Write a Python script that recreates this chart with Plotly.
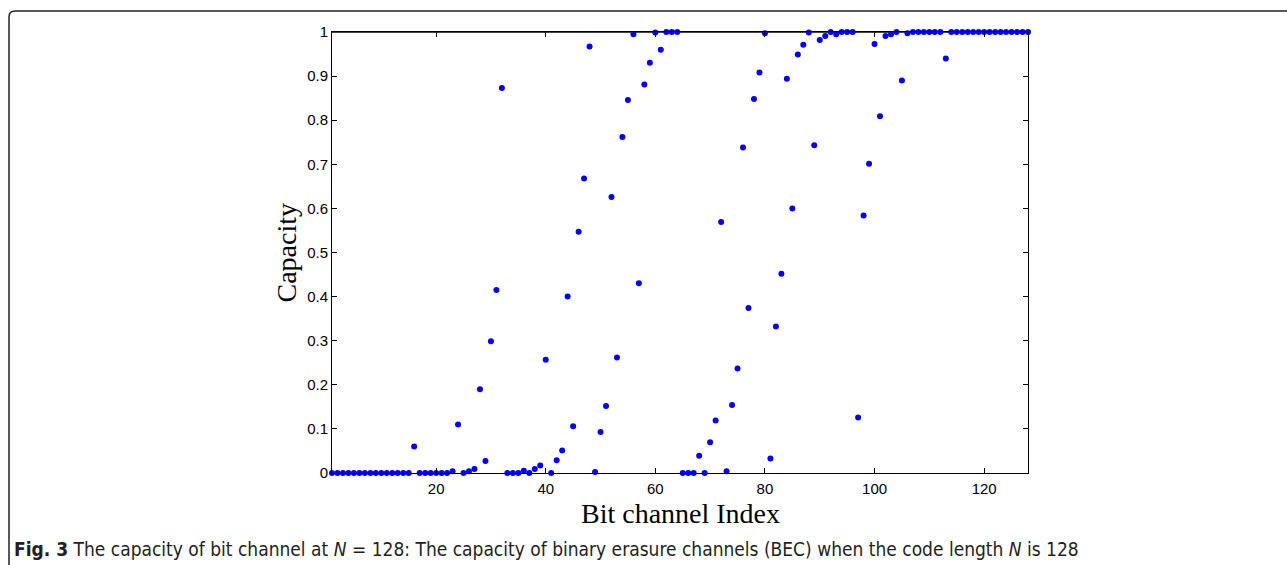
import plotly.graph_objects as go

channel_index = list(range(1, 129))
capacity = [
    0, 0, 0, 0, 0, 0, 0, 0, 0, 0, 0, 0, 0, 0, 0, 0.06,
    0, 0, 0, 0, 0, 0, 0.004, 0.11, 0.0, 0.004, 0.009, 0.19, 0.027, 0.299, 0.415, 0.873,
    0, 0, 0, 0.005, 0.0, 0.009, 0.017, 0.257, 0.0, 0.029, 0.051, 0.40, 0.106, 0.547, 0.668, 0.967,
    0.002, 0.093, 0.152, 0.626, 0.262, 0.762, 0.846, 0.995, 0.43, 0.881, 0.93, 0.999, 0.96, 1, 1, 1,
    0, 0, 0, 0.039, 0.0, 0.070, 0.119, 0.569, 0.004, 0.154, 0.237, 0.738, 0.374, 0.848, 0.908, 0.997,
    0.033, 0.332, 0.452, 0.894, 0.600, 0.949, 0.971, 0.999, 0.743, 0.982, 0.991, 1.0, 0.995, 1, 1, 1,
    0.126, 0.584, 0.701, 0.973, 0.809, 0.991, 0.995, 1, 0.89, 0.997, 1, 1, 1, 1, 1, 1,
    0.94, 1, 1, 1, 1, 1, 1, 1, 1, 1, 1, 1, 1, 1, 1, 1,
]
x_ticks = [20, 40, 60, 80, 100, 120]
y_ticks = [0, 0.1, 0.2, 0.3, 0.4, 0.5, 0.6, 0.7, 0.8, 0.9, 1]
y_tick_text = ["0", "0.1", "0.2", "0.3", "0.4", "0.5", "0.6", "0.7", "0.8", "0.9", "1"]

W, H = 1287, 565
L, R, T, B = 332, 259, 32, 92
pw, ph = W - L - R, H - T - B

def px(x):
    return (x - L) / pw

def py(y):
    return (H - B - y) / ph

fig = go.Figure()
fig.add_trace(go.Scatter(
    x=channel_index, y=capacity, mode="markers",
    marker=dict(color="#0000ff", size=6, line=dict(width=0)),
    cliponaxis=False, showlegend=False,
))

axis_common = dict(
    showline=True, linecolor="black", linewidth=1, mirror="ticks",
    ticks="inside", ticklen=5, tickcolor="black", showgrid=False, zeroline=False,
    tickfont=dict(family="Liberation Sans", size=15, color="black"),
)
fig.update_xaxes(range=[1, 128], tickvals=x_ticks, ticklabelstandoff=2, **axis_common)
fig.update_yaxes(range=[0, 1], tickvals=y_ticks, ticktext=y_tick_text, **axis_common)

frame = (f"M {px(1290)},{py(11)} L {px(15)},{py(11)} "
         f"Q {px(9)},{py(11)} {px(9)},{py(17)} L {px(9)},{py(575)}")

fig.update_layout(
    width=W, height=H,
    margin=dict(l=L, r=R, t=T, b=B, autoexpand=False),
    paper_bgcolor="white", plot_bgcolor="white",
    shapes=[
        dict(type="path", path=frame, xref="paper", yref="paper",
             line=dict(color="#222222", width=1.5), layer="above"),
        dict(type="line", x0=0, x1=1, y0=1, y1=1, xref="paper", yref="paper",
             line=dict(color="#444444", width=2), layer="below"),
    ],
    annotations=[
        dict(text="Bit channel Index", x=0.5, y=py(513), xref="paper", yref="paper",
             showarrow=False, xanchor="center", yanchor="middle",
             font=dict(family="Liberation Serif", size=28, color="black")),
        dict(text="Capacity", x=px(286), y=0.5, xref="paper", yref="paper",
             showarrow=False, xanchor="center", yanchor="middle", textangle=-90,
             font=dict(family="Liberation Serif", size=28, color="black")),
        dict(text="<b>Fig. 3</b> The capacity of bit channel at <i>N</i> = 128: The capacity of binary erasure channels (BEC) when the code length <i>N</i> is 128",
             x=px(12), y=py(549), xref="paper", yref="paper",
             showarrow=False, xanchor="left", yanchor="middle",
             font=dict(family="DejaVu Sans Condensed", size=19, color="#231f20")),
    ],
)

fig.write_html("out.html", config={"displayModeBar": False},
               post_script="document.body.style.margin='0';")
